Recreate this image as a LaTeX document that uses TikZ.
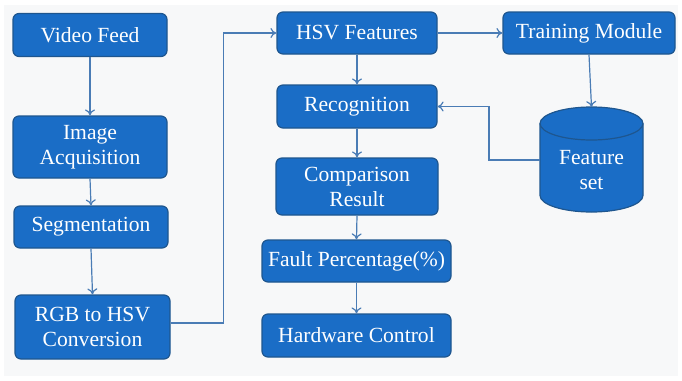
\documentclass[tikz,border=0pt]{standalone}
\usepackage{fontspec}
\setmainfont{Liberation Serif}
\usepackage{tikz}
\usetikzlibrary{arrows.meta}

\definecolor{boxblue}{HTML}{1A6DC6}
\definecolor{boxedge}{HTML}{1E568F}
\definecolor{linkblue}{HTML}{4A7CB5}
\definecolor{pagegray}{HTML}{F7F8F9}

\begin{document}
\begin{tikzpicture}[
            x=.5pt, y=-.5pt,
            stage/.style={rectangle, rounded corners=3pt, fill=boxblue, draw=boxedge, line width=.6pt,
                text=white, align=center, inner sep=0pt, font=\fontsize{10.8}{12.5}\selectfont},
            flow/.style={draw=linkblue, line width=.6pt, -{To[length=3pt, width=5pt]}},
        ]
            \useasboundingbox (0,0) rectangle (682,381);
            \fill[white] (0,0) rectangle (682,381);
            \fill[pagegray] (4,5) rectangle (678,376);

            % left column
            \node[stage, minimum width=77pt, minimum height=21.5pt] (video) at (90,35) {Video Feed};
            \node[stage, minimum width=77pt, minimum height=31pt] (acq) at (90,147) {Image\\Acquisition};
            \node[stage, minimum width=77pt, minimum height=21pt] (seg) at (91,227) {Segmentation};
            \node[stage, minimum width=77.5pt, minimum height=32pt] (rgb) at (92.5,327) {RGB to HSV\\Conversion};

            % middle column
            \node[stage, minimum width=80pt, minimum height=21pt] (hsv) at (357,33) {HSV Features};
            \node[stage, minimum width=80pt, minimum height=21.5pt] (recog) at (357,106.5) {Recognition};
            \node[stage, minimum width=81pt, minimum height=28.5pt] (comp) at (357,186.5) {Comparison\\Result};
            \node[stage, minimum width=94.5pt, minimum height=21pt] (fault) at (356.5,261) {Fault Percentage(\%)};
            \node[stage, minimum width=94.5pt, minimum height=21.5pt] (hw) at (356.5,335.5) {Hardware Control};

            % right column: training and the stored features
            \node[stage, minimum width=86pt, minimum height=21pt] (train) at (589,33) {Training Module};
            \fill[boxblue, draw=boxedge, line width=.6pt] (540,123.5) -- (540,195.5)
                arc[start angle=180, end angle=360, x radius=25.75pt, y radius=8.25pt] -- (643,123.5)
                arc[start angle=0, end angle=180, x radius=25.75pt, y radius=8.25pt] -- cycle;
            \draw[boxedge, line width=.6pt] (540,123.5) arc[start angle=180, end angle=360, x radius=25.75pt, y radius=8.25pt];
            \coordinate (featset-n) at (591.5,107);
            \coordinate (featset-w) at (540,160);
            \node[stage, fill=none, draw=none] (featset) at (591.5,170) {Feature\\set};

            % connections
            \draw[flow] (video.south) -- (acq.north);
            \draw[flow] (acq.south) -- (seg.north);
            \draw[flow] (seg.south) -- (rgb.north);
            \draw[flow] (rgb.east) ++(0,-4) -- ++(53,0) |- (hsv.west);
            \draw[flow] (hsv.east) -- (train.west);
            \draw[flow] (hsv.south) -- (recog.north);
            \draw[flow] (train.south) -- (featset-n);
            \draw[flow] (featset-w) -- ++(-51,0) |- (recog.east);
            \draw[flow] (recog.south) -- (comp.north);
            \draw[flow] (comp.south) -- (fault.north);
            \draw[flow] (fault.south) -- (hw.north);
        \end{tikzpicture}
\end{document}
